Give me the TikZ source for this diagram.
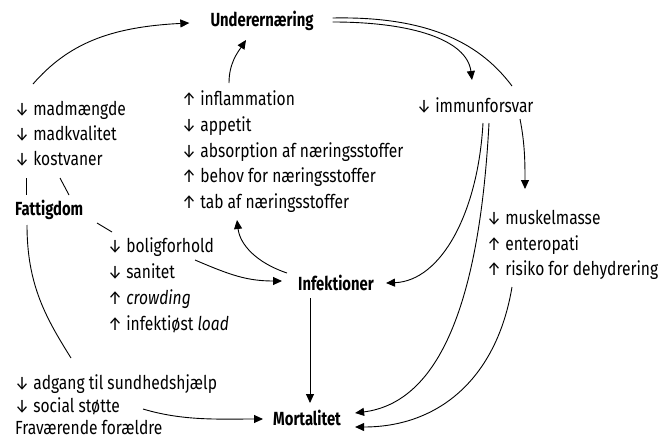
\documentclass[tikz,border=0pt]{standalone}
\usepackage{fontspec}
\setmainfont{Fira Sans}[FakeStretch=0.82, BoldFeatures={FakeStretch=0.78}]
\usetikzlibrary{calc,arrows.meta}

\newcommand{\pilop}{↑\ }
\newcommand{\pilned}{↓\ }

\begin{document}
\begin{tikzpicture}[x=1pt, y=-1pt,
  lbl/.style={anchor=base west, inner sep=0pt, font=\fontsize{19}{20}\selectfont},
  hub/.style={anchor=base west, inner sep=0pt, font=\fontsize{19}{20}\selectfont\bfseries},
  arr/.style={-{Triangle[length=9pt,width=8pt]}, line width=0.9pt},
  link/.style={line width=0.9pt}]

  \useasboundingbox (0,0) rectangle (659,439);

  % Main causes and outcomes
  \node[hub, anchor=base] (under) at (262,27) {Underernæring};
  \node[hub] (fattig) at (15,215)  {Fattigdom};
  \node[hub] (infek)  at (298,290) {Infektioner};
  \node[hub] (mort)   at (273,425) {Mortalitet};
  \node[lbl] (immun)  at (417,112) {\pilned immunforsvar};

  % Food list
  \node[lbl] (madm) at (15,115) {\pilned madmængde};
  \node[lbl] (madk) at (15,140) {\pilned madkvalitet};
  \node[lbl] (kost) at (15,165) {\pilned kostvaner};

  % Effects of infection
  \node[lbl] (infl) at (182,105) {\pilop inflammation};
  \node[lbl] (appe) at (182,131) {\pilned appetit};
  \node[lbl] (abso) at (182,157) {\pilned absorption af næringsstoffer};
  \node[lbl] (beho) at (182,182) {\pilop behov for næringsstoffer};
  \node[lbl] (tab)  at (182,208) {\pilop tab af næringsstoffer};

  % Living conditions
  \node[lbl] (bolig) at (108,252) {\pilned boligforhold};
  \node[lbl] (sani)  at (108,278) {\pilned sanitet};
  \node[lbl] (crowd) at (108,304) {\pilop \textit{crowding}};
  \node[lbl] (load)  at (108,330) {\pilop infektiøst \textit{load}};

  % Effects of weak immunity
  \node[lbl] (musk) at (487,224) {\pilned muskelmasse};
  \node[lbl] (ente) at (487,250) {\pilop enteropati};
  \node[lbl] (risi) at (487,275) {\pilop risiko for dehydrering};

  % Care and support
  \node[lbl] (adg)  at (15,389) {\pilned adgang til sundhedshjælp};
  \node[lbl] (soc)  at (15,412) {\pilned social støtte};
  \node[lbl] (frav) at (15,434) {Fraværende forældre};

  % Plain links from Fattigdom
  \draw[link] ($(kost.base west)+(11,13)$) -- ($(fattig.base west)+(11,-20)$);
  \draw[link] ($(kost.base west)+(45,13)$) -- ($(fattig.base west)+(54,-20)$);
  \draw[link] ($(fattig.base west)+(82,8)$) -- ($(bolig.base west)+(4,-20)$);
  \draw[link] ($(fattig.base west)+(12,10)$)
    .. controls +(0,60) and +(-25,-40) .. ($(adg.base west)+(56,-31)$);

  % Arrows into Underernæring
  \draw[arr] ($(madm.base west)+(18,-31)$)
    .. controls +(35,-40) and +(-80,4) .. ($(under.base west)+(-21,-4)$);
  \draw[arr] ($(infl.base west)+(47,-22)$)
    .. controls +(0,-20) and +(-8,12) .. ($(under.base)+(-16,13)$);

  % Arrows out of Underernæring
  \draw[arr] ($(under.base east)+(19,-5)$)
    .. controls +(80,0) and +(-5,-40) .. ($(immun.base west)+(55,-32)$);
  \draw[link] ($(under.base east)+(19,-9)$)
    .. controls +(100,-2) and +(-30,-40) .. ($(immun.base west)+(95,-26)$);
  \draw[arr] ($(immun.base west)+(103,7)$)
    .. controls +(5,25) and +(0,-25) .. ($(musk.base west)+(38,-35)$);

  % Arrows out of immunforsvar
  \draw[arr] ($(immun.base west)+(66,11)$)
    .. controls +(-5,90) and +(55,-2) .. ($(infek.base east)+(12,-7)$);
  \draw[arr] ($(immun.base west)+(72,11)$)
    .. controls +(-10,190) and +(80,-10) .. ($(mort.base east)+(14,-12)$);
  \draw[arr] ($(risi.base west)+(25,12)$)
    .. controls +(-15,90) and +(85,0) .. ($(mort.base east)+(14,2)$);

  % Infektioner
  \coordinate (infekfod) at ($(infek.base west)+(12,8)$);
  \draw[arr] (infekfod) -- (infekfod |- {$(mort.base west)+(0,-22)$});
  \draw[arr] ($(infek.base west)+(-11,-17)$)
    .. controls +(-30,-10) and +(3,25) .. ($(tab.base west)+(55,12)$);
  \draw[arr] ($(bolig.base west)+(87,8)$)
    .. controls +(35,15) and +(-35,0) .. ($(infek.base west)+(-16,-9)$);

  % Into Mortalitet
  \draw[arr] ($(soc.base west)+(128,-3)$)
    .. controls +(40,12) and +(-45,0) .. ($(mort.base west)+(-10,-6)$);

\end{tikzpicture}
\end{document}
